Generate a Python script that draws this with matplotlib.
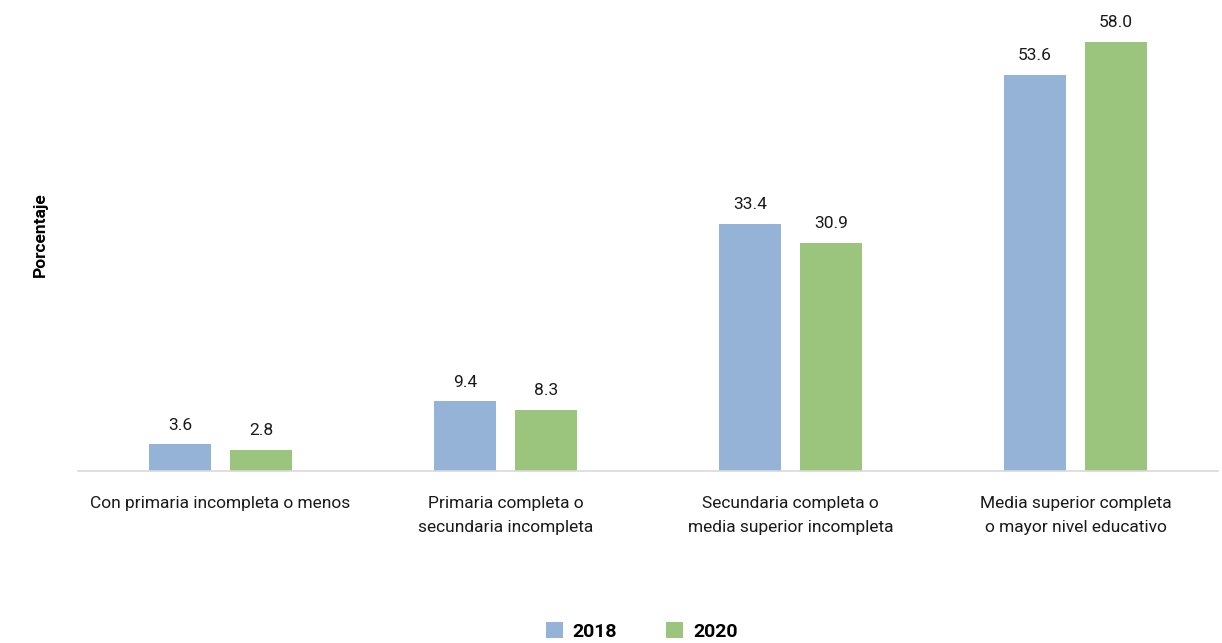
import numpy as np
import matplotlib.pyplot as plt

categories = ["Con primaria incompleta o menos",
              "Primaria completa o\nsecundaria incompleta",
              "Secundaria completa o\nmedia superior incompleta",
              "Media superior completa\no mayor nivel educativo"]
years = ["2018", "2020"]
values_2018 = [3.6, 9.4, 33.4, 53.6]
values_2020 = [2.8, 8.3, 30.9, 58.0]

plt.rcParams['font.family'] = ['Roboto', 'DejaVu Sans']

fig = plt.figure(figsize=(12.22, 6.43), dpi=100)
ax = fig.add_axes([0.0638, 0.2675, 0.9329, 0.7245])

x = np.arange(len(categories))
w = 0.22
b1 = ax.bar(x - 0.142, values_2018, w, color='#95B3D7', label=years[0])
b2 = ax.bar(x + 0.142, values_2020, w, color='#9BC57C', label=years[1])

# etiquetas de valor sobre cada barra
for bars, vals in [(b1, values_2018), (b2, values_2020)]:
    for bar, v in zip(bars, vals):
        ax.text(bar.get_x() + bar.get_width() / 2, v + 1.6, f"{v:.1f}",
                ha='center', va='bottom', fontsize=12.5, color='#1a1a1a')

ax.set_xlim(-0.5, 3.5)
ax.set_ylim(0, 63)
ax.set_xticks(x)
ax.set_xticklabels(categories, fontsize=12.5, color='#1a1a1a', linespacing=1.75)
ax.tick_params(axis='x', length=0, pad=18)
ax.set_yticks([])
for s in ['top', 'right', 'left']:
    ax.spines[s].set_visible(False)
ax.spines['bottom'].set_color('#D9D9D9')
ax.spines['bottom'].set_linewidth(1.2)

fig.text(0.033, 0.635, "Porcentaje", rotation=90, ha='center', va='center',
         fontsize=12.5, fontweight='bold')

fig.legend(handles=[b1, b2], labels=years, loc='center', bbox_to_anchor=(0.525, 0.018),
           ncol=2, frameon=False, prop={'size': 14, 'weight': 'bold'},
           handlelength=0.9, handleheight=0.9, columnspacing=2.5, handletextpad=0.5)

fig.savefig("out.png", dpi=100)
